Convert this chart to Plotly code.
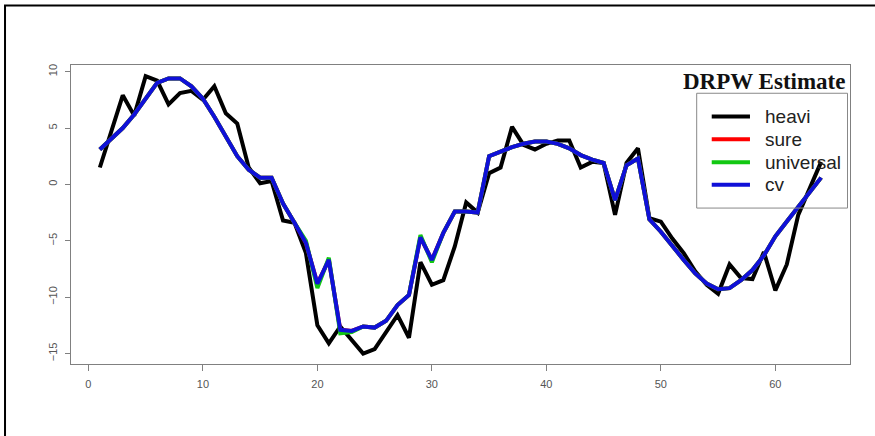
import plotly.graph_objects as go

# Index of the estimate (1..64)
x = list(range(1, 65))

# Series values
heavi = [1.5, 4.7, 7.9, 6.1, 9.6, 9.2, 7.1, 8.1, 8.3, 7.5,
         8.7, 6.3, 5.4, 1.5, 0.1, 0.3, -3.2, -3.4, -6.1, -12.5,
         -14.1, -12.6, -13.8, -15.0, -14.6, -13.1, -11.6, -13.6, -6.9, -8.9,
         -8.5, -5.5, -1.6, -2.5, 1.0, 1.5, 5.1, 3.5, 3.1, 3.6,
         3.9, 3.9, 1.5, 2.0, 1.9, -2.7, 1.9, 3.2, -3.0, -3.3,
         -4.8, -6.1, -7.7, -8.9, -9.7, -7.1, -8.3, -8.4, -6.0, -9.4,
         -7.1, -2.7, -0.3, 2.0]

sure = [3.1, 4.1, 5.0, 6.2, 7.6, 9.0, 9.4, 9.4, 8.7, 7.6,
        6.0, 4.2, 2.5, 1.3, 0.6, 0.6, -1.7, -3.4, -5.2, -8.8,
        -6.7, -12.9, -13.0, -12.6, -12.7, -12.1, -10.7, -9.8, -4.7, -6.7,
        -4.3, -2.4, -2.4, -2.5, 2.5, 2.9, 3.3, 3.6, 3.8, 3.8,
        3.6, 3.2, 2.6, 2.2, 1.9, -1.4, 1.7, 2.3, -3.1, -4.2,
        -5.5, -6.7, -7.9, -8.8, -9.3, -9.2, -8.5, -7.6, -6.3, -4.6,
        -3.3, -2.0, -0.7, 0.6]

universal = [3.1, 4.1, 5.0, 6.2, 7.6, 9.0, 9.4, 9.4, 8.7, 7.6,
             6.0, 4.2, 2.5, 1.3, 0.6, 0.6, -1.7, -3.4, -5.0, -9.2,
             -6.5, -13.2, -13.1, -12.6, -12.7, -12.1, -10.7, -9.8, -4.5, -6.9,
             -4.3, -2.4, -2.4, -2.5, 2.5, 2.9, 3.3, 3.6, 3.8, 3.8,
             3.6, 3.2, 2.6, 2.2, 1.9, -1.4, 1.7, 2.3, -3.1, -4.2,
             -5.5, -6.7, -7.9, -8.8, -9.3, -9.2, -8.5, -7.6, -6.3, -4.6,
             -3.3, -2.0, -0.7, 0.6]

cv = [3.1, 4.1, 5.0, 6.2, 7.6, 9.0, 9.4, 9.4, 8.7, 7.6,
      6.0, 4.2, 2.5, 1.3, 0.6, 0.6, -1.7, -3.4, -5.2, -8.8,
      -6.7, -12.9, -13.0, -12.6, -12.7, -12.1, -10.7, -9.8, -4.7, -6.7,
      -4.3, -2.4, -2.4, -2.5, 2.5, 2.9, 3.3, 3.6, 3.8, 3.8,
      3.6, 3.2, 2.6, 2.2, 1.9, -1.4, 1.7, 2.3, -3.1, -4.2,
      -5.5, -6.7, -7.9, -8.8, -9.3, -9.2, -8.5, -7.6, -6.3, -4.6,
      -3.3, -2.0, -0.7, 0.6]

series_names = ["heavi", "sure", "universal", "cv"]
series_values = [heavi, sure, universal, cv]
series_colors = ["#000000", "#ff0000", "#12c812", "#1010d8"]

x_ticks = [0, 10, 20, 30, 40, 50, 60]
y_ticks = [-15, -10, -5, 0, 5, 10]

fig = go.Figure()
for name, vals, col in zip(series_names, series_values, series_colors):
    fig.add_trace(go.Scatter(x=x, y=vals, mode="lines", name=name,
                             line=dict(color=col, width=4),
                             showlegend=False, hoverinfo="skip"))

axis_common = dict(showgrid=False, zeroline=False, showline=True, mirror=True,
                   linecolor="#808080", linewidth=1, ticks="outside",
                   tickcolor="#808080", tickwidth=1,
                   tickfont=dict(family="Liberation Sans, Arial", size=11,
                                 color="#555555"))

fig.update_xaxes(range=[-1.52, 66.52], tickvals=x_ticks, ticklen=6,
                 ticklabelstandoff=4, **axis_common)
fig.update_yaxes(range=[-15.93, 10.59], tickvals=y_ticks, ticklen=5,
                 tickangle=-90, ticklabelstandoff=4, **axis_common)

shapes = []
# outer frame (top and left edges)
shapes.append(dict(type="rect", xref="paper", yref="paper",
                   x0=-0.0847, x1=1.3, y0=-0.5, y1=1.1987,
                   line=dict(color="#000000", width=2)))

# legend box
shapes.append(dict(type="rect", xref="paper", yref="paper",
                   x0=0.8032, x1=0.9968, y0=0.5215, y1=0.9055,
                   line=dict(color="#888888", width=1)))

annotations = []
legend_rows = [0.8274, 0.7519, 0.6751, 0.5993]
for name, col, yy in zip(series_names, series_colors, legend_rows):
    shapes.append(dict(type="line", xref="paper", yref="paper",
                       x0=0.8225, x1=0.8716, y0=yy, y1=yy,
                       line=dict(color=col, width=4)))
    annotations.append(dict(xref="paper", yref="paper", x=0.8879, y=yy,
                            xanchor="left", yanchor="middle", text=name,
                            showarrow=False,
                            font=dict(family="Liberation Sans, Arial",
                                      size=19, color="#222222")))

annotations.append(dict(xref="paper", yref="paper", x=0.9958, y=0.9432,
                        xanchor="right", yanchor="middle",
                        text="<b>DRPW Estimate</b>", showarrow=False,
                        font=dict(family="Liberation Serif, Times New Roman",
                                  size=23, color="#111111")))

fig.update_layout(width=875, height=436,
                  margin=dict(l=71, r=25, t=65, b=71.5),
                  paper_bgcolor="white", plot_bgcolor="white",
                  shapes=shapes, annotations=annotations,
                  showlegend=False)

fig.write_html("out.html")
